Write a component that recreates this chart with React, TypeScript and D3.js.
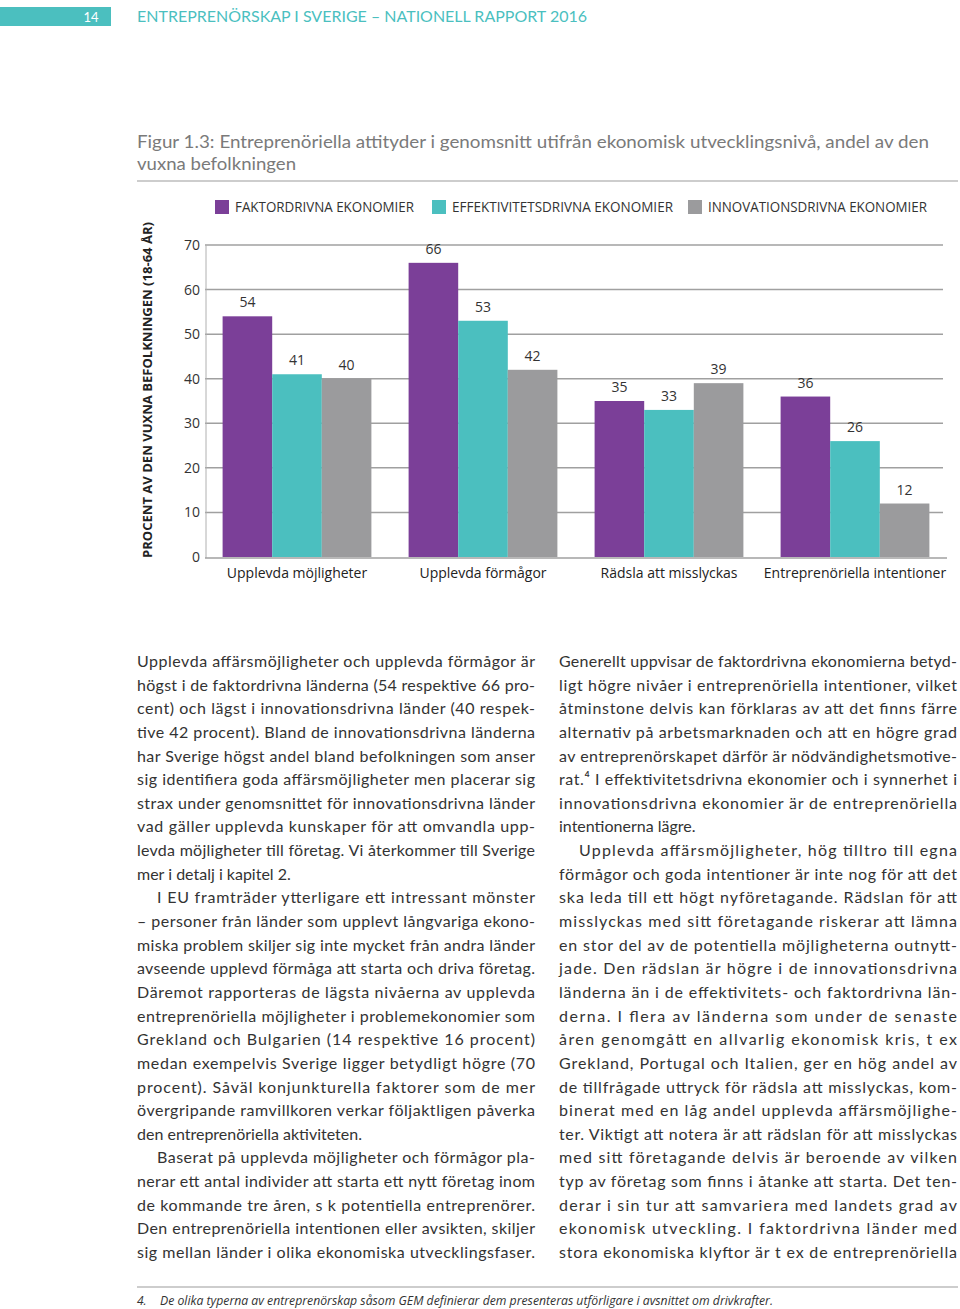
import React from "react";
import * as d3 from "d3";

const categories = [
  "Upplevda möjligheter",
  "Upplevda förmågor",
  "Rädsla att misslyckas",
  "Entreprenöriella intentioner",
];
const seriesNames = [
  "FAKTORDRIVNA EKONOMIER",
  "EFFEKTIVITETSDRIVNA EKONOMIER",
  "INNOVATIONSDRIVNA EKONOMIER",
];
const factorValues = [54, 66, 35, 36];
const efficiencyValues = [41, 53, 33, 26];
const innovationValues = [40, 42, 39, 12];
const yTicks = [0, 10, 20, 30, 40, 50, 60, 70];
const seriesColors = ["#7b3f98", "#4bbfbf", "#9b9b9d"];

const leftLines: [string, boolean, boolean][] = [
  ["Upplevda affärsmöjligheter och upplevda förmågor är", true, false],
  ["högst i de faktordrivna länderna (54 respektive 66 pro-", true, false],
  ["cent) och lägst i innovationsdrivna länder (40 respek-", true, false],
  ["tive 42 procent). Bland de innovationsdrivna länderna", true, false],
  ["har Sverige högst andel bland befolkningen som anser", true, false],
  ["sig identifiera goda affärsmöjligheter men placerar sig", true, false],
  ["strax under genomsnittet för innovationsdrivna länder", true, false],
  ["vad gäller upplevda kunskaper för att omvandla upp-", true, false],
  ["levda möjligheter till företag. Vi återkommer till Sverige", true, false],
  ["mer i detalj i kapitel 2.", false, false],
  ["I EU framträder ytterligare ett intressant mönster", true, true],
  ["– personer från länder som upplevt långvariga ekono-", true, false],
  ["miska problem skiljer sig inte mycket från andra länder", true, false],
  ["avseende upplevd förmåga att starta och driva företag.", true, false],
  ["Däremot rapporteras de lägsta nivåerna av upplevda", true, false],
  ["entreprenöriella möjligheter i problemekonomier som", true, false],
  ["Grekland och Bulgarien (14 respektive 16 procent)", true, false],
  ["medan exempelvis Sverige ligger betydligt högre (70", true, false],
  ["procent). Såväl konjunkturella faktorer som de mer", true, false],
  ["övergripande ramvillkoren verkar följaktligen påverka", true, false],
  ["den entreprenöriella aktiviteten.", false, false],
  ["Baserat på upplevda möjligheter och förmågor pla-", true, true],
  ["nerar ett antal individer att starta ett nytt företag inom", true, false],
  ["de kommande tre åren, s k potentiella entreprenörer.", true, false],
  ["Den entreprenöriella intentionen eller avsikten, skiljer", true, false],
  ["sig mellan länder i olika ekonomiska utvecklingsfaser.", true, false],
];

const rightLines: [string, boolean, boolean][] = [
  ["Generellt uppvisar de faktordrivna ekonomierna betyd-", true, false],
  ["ligt högre nivåer i entreprenöriella intentioner, vilket", true, false],
  ["åtminstone delvis kan förklaras av att det finns färre", true, false],
  ["alternativ på arbetsmarknaden och att en högre grad", true, false],
  ["av entreprenörskapet därför är nödvändighetsmotive-", true, false],
  ["rat.⁴ I effektivitetsdrivna ekonomier och i synnerhet i", true, false],
  ["innovationsdrivna ekonomier är de entreprenöriella", true, false],
  ["intentionerna lägre.", false, false],
  ["Upplevda affärsmöjligheter, hög tilltro till egna", true, true],
  ["förmågor och goda intentioner är inte nog för att det", true, false],
  ["ska leda till ett högt nyföretagande. Rädslan för att", true, false],
  ["misslyckas med sitt företagande riskerar att lämna", true, false],
  ["en stor del av de potentiella möjligheterna outnytt-", true, false],
  ["jade. Den rädslan är högre i de innovationsdrivna", true, false],
  ["länderna än i de effektivitets- och faktordrivna län-", true, false],
  ["derna. I flera av länderna som under de senaste", true, false],
  ["åren genomgått en allvarlig ekonomisk kris, t ex", true, false],
  ["Grekland, Portugal och Italien, ger en hög andel av", true, false],
  ["de tillfrågade uttryck för rädsla att misslyckas, kom-", true, false],
  ["binerat med en låg andel upplevda affärsmöjlighe-", true, false],
  ["ter. Viktigt att notera är att rädslan för att misslyckas", true, false],
  ["med sitt företagande delvis är beroende av vilken", true, false],
  ["typ av företag som finns i åtanke att starta. Det ten-", true, false],
  ["derar i sin tur att samvariera med landets grad av", true, false],
  ["ekonomisk utveckling. I faktordrivna länder med", true, false],
  ["stora ekonomiska klyftor är t ex de entreprenöriella", true, false],
];

const W = 960;
const H = 1309;

export default function App() {
  const seriesValues = [factorValues, efficiencyValues, innovationValues];
  const x0 = d3
    .scaleBand<string>()
    .domain(categories)
    .range([204, 948])
    .paddingInner(0.2)
    .paddingOuter(0.1);
  const x1 = d3
    .scaleBand<number>()
    .domain([0, 1, 2])
    .range([0, x0.bandwidth()]);
  const y = d3.scaleLinear().domain([0, 70]).range([557, 245]);

  const legendX = [215, 432, 688];
  const legendLen = [179, 221, 219];

  const bodyFont = "Lato, 'Open Sans', sans-serif";
  const lineStep = 23.64;
  const colW = 398;

  const renderColumn = (lines: [string, boolean, boolean][], x0c: number) =>
    lines.map(([t, just, indent], i) => {
      const xs = x0c + (indent ? 20 : 0);
      const w = colW - (indent ? 20 : 0);
      return (
        <text
          key={i}
          x={xs}
          y={667 + i * lineStep}
          fontSize={16}
          fill="#333"
          fontFamily={bodyFont}
          {...(just ? { textLength: w, lengthAdjust: "spacing" } : {})}
        >
          {t}
        </text>
      );
    });

  return (
    <svg
      width={W}
      height={H}
      viewBox={`0 0 ${W} ${H}`}
      style={{ position: "absolute", left: 0, top: 0, background: "#fff" }}
    >
      {/* header */}
      <rect x={0} y={7} width={111} height={19} fill="#4bbfbf" />
      <text x={91} y={21.5} fontSize={13} fill="#fff" textAnchor="middle" fontFamily="Lato, sans-serif">
        14
      </text>
      <text x={137} y={22} fontSize={15} fill="#4bbfbf" fontFamily="Lato, sans-serif" textLength={450} lengthAdjust="spacingAndGlyphs">
        ENTREPRENÖRSKAP I SVERIGE – NATIONELL RAPPORT 2016
      </text>

      {/* figure title */}
      <text x={137} y={148} fontSize={17} fill="#7a7a7a" fontFamily="Lato, sans-serif" textLength={792} lengthAdjust="spacingAndGlyphs">
        Figur 1.3: Entreprenöriella attityder i genomsnitt utifrån ekonomisk utvecklingsnivå, andel av den
      </text>
      <text x={137} y={170} fontSize={17} fill="#7a7a7a" fontFamily="Lato, sans-serif" textLength={159} lengthAdjust="spacingAndGlyphs">
        vuxna befolkningen
      </text>
      <line x1={137} x2={958} y1={181} y2={181} stroke="#bdbdbd" strokeWidth={1.5} />

      {/* legend */}
      {seriesNames.map((s, i) => (
        <g key={s}>
          <rect x={legendX[i]} y={200} width={14} height={14} fill={seriesColors[i]} />
          <text
            x={legendX[i] + 20}
            y={212}
            fontSize={14}
            fill="#333"
            fontFamily="'Open Sans', sans-serif"
            textLength={legendLen[i]}
            lengthAdjust="spacingAndGlyphs"
          >
            {s}
          </text>
        </g>
      ))}

      {/* y axis title */}
      <text
        transform={`translate(152, 390) rotate(-90)`}
        textAnchor="middle"
        fontSize={13}
        fontWeight="bold"
        fill="#222"
        fontFamily="'Open Sans', sans-serif"
        textLength={336}
        lengthAdjust="spacingAndGlyphs"
      >
        PROCENT AV DEN VUXNA BEFOLKNINGEN (18-64 ÅR)
      </text>

      {/* gridlines */}
      {yTicks.map((t) => (
        <g key={t}>
          {t > 0 && (
            <line x1={205} x2={943} y1={y(t)} y2={y(t)} stroke="#a0a0a0" strokeWidth={1.5} />
          )}
          <text
            x={200}
            y={y(t) + 5}
            textAnchor="end"
            fontSize={14}
            fill="#333"
            fontFamily="'Open Sans', sans-serif"
          >
            {t}
          </text>
        </g>
      ))}
      <line x1={206} x2={206} y1={y(70)} y2={y(0) + 1} stroke="#b0b0b0" strokeWidth={1} />

      {/* bars */}
      {categories.map((c, ci) => (
        <g key={c} transform={`translate(${x0(c)},0)`}>
          {seriesValues.map((vals, si) => {
            const v = vals[ci];
            const bx = x1(si) as number;
            return (
              <g key={si}>
                <rect
                  x={bx}
                  y={y(v)}
                  width={x1.bandwidth()}
                  height={y(0) - y(v)}
                  fill={seriesColors[si]}
                />
                <text
                  x={bx + x1.bandwidth() / 2}
                  y={y(v) - 9}
                  textAnchor="middle"
                  fontSize={14}
                  fill="#333"
                  fontFamily="'Open Sans', sans-serif"
                >
                  {v}
                </text>
              </g>
            );
          })}
          <text
            x={x0.bandwidth() / 2}
            y={578}
            textAnchor="middle"
            fontSize={14}
            fill="#222"
            fontFamily="'Open Sans', sans-serif"
          >
            {c}
          </text>
        </g>
      ))}
      <line x1={205} x2={947} y1={558} y2={558} stroke="#a0a0a0" strokeWidth={1.5} />

      {/* body text */}
      {renderColumn(leftLines, 137)}
      {renderColumn(rightLines, 559)}

      {/* footnote */}
      <line x1={137} x2={958} y1={1287} y2={1287} stroke="#bdbdbd" strokeWidth={1.5} />
      <text x={137} y={1305} fontSize={12} fontStyle="italic" fill="#333" fontFamily="'Open Sans', sans-serif">
        4.
      </text>
      <text
        x={160}
        y={1305}
        fontSize={12}
        fontStyle="italic"
        fill="#333"
        fontFamily="'Open Sans', sans-serif"
        textLength={613}
        lengthAdjust="spacingAndGlyphs"
      >
        De olika typerna av entreprenörskap såsom GEM definierar dem presenteras utförligare i avsnittet om drivkrafter.
      </text>
    </svg>
  );
}
